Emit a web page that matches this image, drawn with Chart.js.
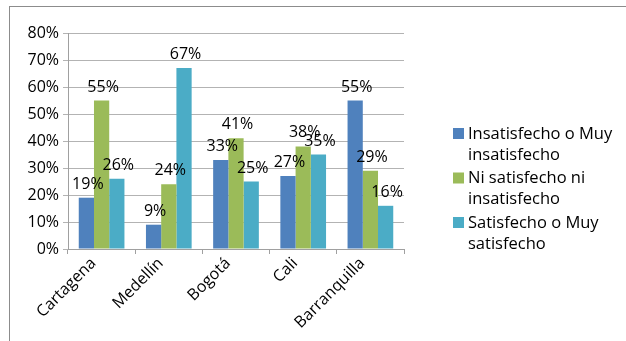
<!DOCTYPE html>
<html>
<head>
<meta charset="utf-8">
<script src="https://cdn.jsdelivr.net/npm/chart.js@4/dist/chart.umd.min.js"></script>
<style>
  html, body { margin:0; padding:0; background:#fff; }
  #wrap { position:relative; width:626px; height:341px; overflow:hidden; }
  #frame { position:absolute; left:9px; top:6px; width:700px; height:400px; border:1px solid #8c8c8c; }
  canvas { position:absolute; left:0; top:0; }
</style>
</head>
<body>
<div id="wrap">
  <div id="frame"></div>
  <canvas id="chart" width="626" height="341"></canvas>
</div>
<script>
const cities = ['Cartagena', 'Medellín', 'Bogotá', 'Cali', 'Barranquilla'];
const insatisfecho = [19, 9, 33, 27, 55];
const niSatisfecho = [55, 24, 41, 38, 29];
const satisfecho = [26, 67, 25, 35, 16];
const seriesNames = [
  ['Insatisfecho o Muy', 'insatisfecho'],
  ['Ni satisfecho ni', 'insatisfecho'],
  ['Satisfecho o Muy', 'satisfecho']
];
const colors = ['#4F81BD', '#9BBB59', '#4BACC6'];

const FONT = '"Open Sans", Lato, sans-serif';

// etiquetas encima de cada barra
const valueLabels = {
  id: 'valueLabels',
  afterDatasetsDraw(chart) {
    const ctx = chart.ctx;
    ctx.save();
    ctx.font = '16px ' + FONT;
    ctx.fillStyle = '#000';
    ctx.textAlign = 'center';
    ctx.textBaseline = 'alphabetic';
    chart.data.datasets.forEach((ds, i) => {
      chart.getDatasetMeta(i).data.forEach((bar, j) => {
        ctx.fillText(ds.data[j] + '%', bar.x + 1.5, bar.y - 9);
      });
    });
    ctx.restore();
  }
};

// leyenda a la derecha con texto en dos líneas
const sideLegend = {
  id: 'sideLegend',
  afterDraw(chart) {
    const ctx = chart.ctx;
    ctx.save();
    ctx.font = '16.5px ' + FONT;
    ctx.textBaseline = 'middle';
    chart.data.datasets.forEach((ds, i) => {
      const y = 133 + i * 44.5;
      ctx.fillStyle = ds.backgroundColor;
      ctx.fillRect(453, y - 5, 11, 11);
      ctx.fillStyle = '#000';
      ds.legendLines.forEach((t, k) => ctx.fillText(t, 468, y + 1 + k * 21));
    });
    ctx.restore();
  }
};

const datasets = [insatisfecho, niSatisfecho, satisfecho].map((d, i) => ({
  label: seriesNames[i].join(' '),
  legendLines: seriesNames[i],
  data: d,
  backgroundColor: colors[i],
  borderWidth: 0,
  categoryPercentage: 0.68,
  barPercentage: 1
}));

new Chart(document.getElementById('chart'), {
  type: 'bar',
  data: { labels: cities, datasets },
  options: {
    responsive: false,
    animation: false,
    layout: { padding: { top: 33, right: 222, left: 0, bottom: 0 } },
    plugins: { legend: { display: false }, tooltip: { enabled: false } },
    scales: {
      y: {
        min: 0, max: 80,
        afterFit: s => { s.width = 68; },
        ticks: { stepSize: 10, callback: v => v + '%', color: '#000', font: { family: FONT, size: 16 }, padding: 4 },
        grid: { color: '#b3b3b3', tickLength: 5, lineWidth: 1 },
        border: { color: '#a0a0a0' }
      },
      x: {
        afterFit: s => { s.height = 92; },
        ticks: { color: '#000', font: { family: FONT, size: 16 }, minRotation: 45, maxRotation: 45, padding: 0, labelOffset: -8 },
        grid: { drawOnChartArea: false, tickLength: 5, color: '#a0a0a0', offset: true },
        border: { color: '#a0a0a0' }
      }
    }
  },
  plugins: [valueLabels, sideLegend]
});
</script>
</body>
</html>
